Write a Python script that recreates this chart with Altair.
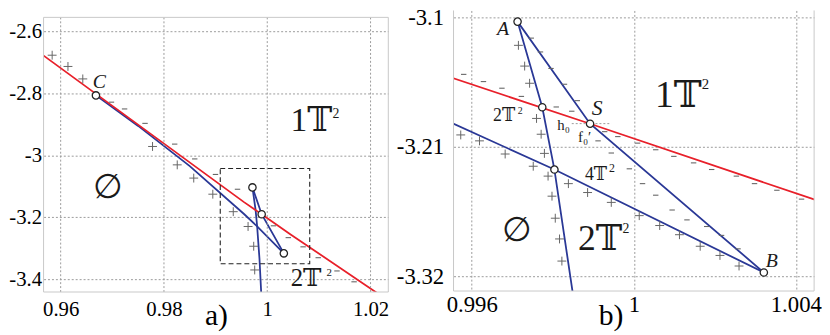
import altair as alt
import pandas as pd

RED = "#e8202a"
BLUE = "#2a3896"
GRID = "#9a9a9a"
FRAME = "#c8c8c8"
SYM = "#666666"
FONT = "'Liberation Serif', 'Times New Roman', Tinos, 'DejaVu Serif', serif"

# ---------------- curves (shared by both panels) ----------------
red_x = [0.9567, 0.9955, 0.99892, 1.00445, 1.0212]
red_y = [-2.678, -3.1512, -3.1903, -3.2546, -3.444]

blue1_x = [0.96683, 0.975, 0.985, 0.9955, 0.99804, 1.00321]
blue1_y = [-2.8064, -2.905, -3.035, -3.1895, -3.2292, -3.3166]

blue2_x = [0.99713, 0.99892, 1.00321]
blue2_y = [-3.1036, -3.1903, -3.3166]

blue3_x = [0.99713, 0.99774, 0.99804, 0.99849, 0.99883]
blue3_y = [-3.1036, -3.1763, -3.2292, -3.3334, -3.4447]

# ---------------- panel a symbols ----------------
a_plus_x = [0.958355, 0.961415, 0.964285, 0.977789, 0.982571, 0.985765,
            0.989457, 0.993417, 0.996286, 0.997376, 0.997567]
a_plus_y = [-2.67658, -2.71295, -2.75316, -2.97141, -3.03076, -3.07352,
            -3.12553, -3.182, -3.22986, -3.29368, -3.37026]
a_minus_x = [0.969832, 0.972376, 0.976335, 0.982074, 0.985957, 0.989974,
             0.994239, 1.001202, 1.004072, 1.006939, 1.009866, 1.0135, 1.01681]
a_minus_y = [-2.82825, -2.85016, -2.89675, -2.96375, -3.01161, -3.06171,
             -3.10957, -3.22764, -3.2659, -3.29559, -3.33069, -3.37345, -3.40855]
a_pts_x = [0.96683, 0.99713, 0.99892, 1.00321]
a_pts_y = [-2.8064, -3.1036, -3.1903, -3.3166]

# ---------------- panel b symbols ----------------
b_plus_x = [0.997151, 0.997305, 0.997427, 0.997598, 0.997712, 0.995727, 0.99619,
            0.997793, 0.997883, 0.99798, 0.998061, 0.998166, 0.998224,
            0.996824, 0.997517, 0.998385, 0.998859, 0.999444, 1.000134,
            1.000639, 1.001127, 1.001639, 1.002127, 1.002598]
b_plus_y = [-3.12374, -3.14135, -3.15594, -3.1858, -3.19922, -3.19981, -3.20484,
            -3.21549, -3.23478, -3.25181, -3.27051, -3.28812, -3.30691,
            -3.216, -3.22639, -3.24116, -3.24871, -3.25709, -3.26833,
            -3.27672, -3.28452, -3.29433, -3.30213, -3.3111]
b_minus_x = [0.997468, 0.997695, 0.997956, 0.998288, 0.998605, 0.9958, 0.996288,
             0.996744, 0.997224, 0.998085, 0.998468, 0.99928, 0.999605, 0.999117,
             0.999444, 0.99989, 1.000093, 1.000541, 1.000215, 1.000541, 1.000988,
             1.001476, 1.000946, 1.001312, 1.001922, 1.0018, 1.002166, 1.002532,
             1.002573, 1.00298, 1.003532, 1.004141]
b_minus_y = [-3.11761, -3.12935, -3.14336, -3.15678, -3.1707, -3.14839, -3.15452,
             -3.16014, -3.1671, -3.17607, -3.17968, -3.19704, -3.20123, -3.20484,
             -3.21516, -3.22857, -3.20677, -3.21239, -3.24116, -3.25097, -3.218,
             -3.22354, -3.26355, -3.27194, -3.22916, -3.27756, -3.2851, -3.23478,
             -3.29651, -3.24116, -3.24678, -3.25432]
b_pts_x = [0.99713, 0.99774, 0.99892, 0.99804, 1.00321]
b_pts_y = [-3.1036, -3.1763, -3.1903, -3.2292, -3.3166]

# ---------------- ticks / domains ----------------
a_xticks = [0.96, 0.98, 1.0, 1.02]
a_yticks = [-2.6, -2.8, -3.0, -3.2, -3.4]
b_xticks = [0.996, 1.0, 1.004]
b_yticks = [-3.1, -3.21, -3.32]
a_xdom = [0.95669, 1.02344]
a_ydom = [-3.44148, -2.53204]
a_frame_top = -2.5544
b_xdom = [0.995549, 1.004451]
b_ydom = [-3.33233, -3.09413]
a_box = [0.9909, 1.00822, -3.35, -3.0427]

# ---------------- labels ----------------
a_txt = ["1𝕋", "2𝕋", "2", "2"]
a_txt_x = [1.004511, 1.004547, 1.01264, 1.01149]
a_txt_y = [-2.92132, -3.42131, -2.87984, -3.39132]
a_txt_fs = [34, 25, 14, 11]
a_it = ["C"]
a_it_x = [0.9662]
a_it_y = [-2.7809]
a_it_fs = [20]
a_empty_x = [0.969124]
a_empty_y = [-3.10638]

b_txt = ["2𝕋", "4𝕋", "1𝕋", "2𝕋", "h₀", "f₀′", "2", "2", "2", "2"]
b_txt_x = [0.996524, 0.998793, 1.000524, 0.998622, 0.99811, 0.998622,
           0.997134, 0.999385, 1.00168, 0.99972]
b_txt_y = [-3.18806, -3.2378, -3.17632, -3.29768, -3.19561, -3.20568,
           -3.18245, -3.23142, -3.16039, -3.28284]
b_txt_fs = [18, 18, 38, 36, 15, 15, 10, 12, 15, 14]
b_it = ["A", "S", "B"]
b_it_x = [0.996622, 0.998963, 1.003256]
b_it_y = [-3.1151, -3.183, -3.3122]
b_it_fs = [20, 22, 20]
b_empty_x = [0.99711]
b_empty_y = [-3.28116]
s_dash = [0.998468, 0.999444, -3.1902]

LABEL_EXPR = "datum.value < 0 ? '-' + format(-datum.value, '~g') : format(datum.value, '~g')"


def lines_df():
    rows = []
    for name, xs, ys in [("b1", blue1_x, blue1_y), ("b2", blue2_x, blue2_y),
                         ("b3", blue3_x, blue3_y), ("red", red_x, red_y)]:
        for i, (x, y) in enumerate(zip(xs, ys)):
            rows.append({"x": x, "y": y, "s": name, "o": i})
    return pd.DataFrame(rows)


def one():
    return alt.Chart(pd.DataFrame({"k": [0]}))


def panel(xdom, ydom, xticks, yticks, lab_fs, xpad, ypad, title, title_x, title_y,
          xgrid, plus_x, plus_y, minus_x, minus_y, pts_x, pts_y,
          txt, txt_x, txt_y, txt_fs, it, it_x, it_y, it_fs, em_x, em_y, em_fs):
    xaxis = alt.Axis(values=xticks, grid=xgrid, gridColor=GRID, gridDash=[2, 2], gridWidth=1,
                     ticks=False, domain=False, labelFont=FONT, labelFontSize=lab_fs,
                     labelColor="black", labelPadding=xpad, labelFlush=False,
                     labelOverlap=False, labelExpr=LABEL_EXPR,
                     title=title, titleFont=FONT, titleFontSize=30, titleFontWeight="normal",
                     titleColor="black", titleBaseline="alphabetic", titleAlign="center",
                     titleX=title_x, titleY=title_y)
    yaxis = alt.Axis(values=yticks, grid=True, gridColor=GRID, gridDash=[2, 2], gridWidth=1,
                     ticks=False, domain=False, labelFont=FONT, labelFontSize=lab_fs,
                     labelColor="black", labelPadding=ypad, labelFlush=False,
                     labelOverlap=False, labelExpr=LABEL_EXPR, title=None)
    X = alt.X("x:Q", scale=alt.Scale(domain=xdom, nice=False, zero=False), axis=xaxis)
    Y = alt.Y("y:Q", scale=alt.Scale(domain=ydom, nice=False, zero=False), axis=yaxis)

    lines = alt.Chart(lines_df()).mark_line(clip=True, strokeWidth=1.8).encode(
        x=X, y=Y, detail="s:N", order="o:Q",
        color=alt.Color("s:N", scale=alt.Scale(domain=["b1", "b2", "b3", "red"],
                                               range=[BLUE, BLUE, BLUE, RED]), legend=None))
    plus = alt.Chart(pd.DataFrame({"x": plus_x, "y": plus_y})).mark_point(
        shape="M-1,0H1M0,-1V1", size=81, filled=False, stroke=SYM, strokeWidth=1, opacity=1
    ).encode(x="x:Q", y="y:Q")
    minus = alt.Chart(pd.DataFrame({"x": minus_x, "y": minus_y})).mark_point(
        shape="M-1,0H1", size=30, filled=False, stroke=SYM, strokeWidth=1.1, opacity=1
    ).encode(x="x:Q", y="y:Q")
    pts = alt.Chart(pd.DataFrame({"x": pts_x, "y": pts_y})).mark_point(
        shape="circle", size=55, filled=True, fill="white", stroke="#222222",
        strokeWidth=1.3, opacity=1
    ).encode(x="x:Q", y="y:Q")
    t1 = alt.Chart(pd.DataFrame({"x": txt_x, "y": txt_y, "t": txt, "fs": txt_fs})).mark_text(
        align="left", baseline="alphabetic", font=FONT, color="#1a1a1a"
    ).encode(x="x:Q", y="y:Q", text="t:N", size=alt.Size("fs:Q", scale=None))
    t2 = alt.Chart(pd.DataFrame({"x": it_x, "y": it_y, "t": it, "fs": it_fs})).mark_text(
        align="left", baseline="alphabetic", font=FONT, fontStyle="italic", color="#1a1a1a"
    ).encode(x="x:Q", y="y:Q", text="t:N", size=alt.Size("fs:Q", scale=None))
    t3 = alt.Chart(pd.DataFrame({"x": em_x, "y": em_y, "t": ["∅"] * len(em_x)})).mark_text(
        align="center", baseline="middle", font=FONT, fontSize=em_fs, color="#1a1a1a"
    ).encode(x="x:Q", y="y:Q", text="t:N")
    return lines, plus, minus, pts, t1, t2, t3


# ---------------- panel a ----------------
la, pa, ma, ca, t1a, t2a, t3a = panel(
    a_xdom, a_ydom, a_xticks, a_yticks, 21, 7, 2, "a)", 174.5, 33, False,
    a_plus_x, a_plus_y, a_minus_x, a_minus_y, a_pts_x, a_pts_y,
    a_txt, a_txt_x, a_txt_y, a_txt_fs, a_it, a_it_x, a_it_y, a_it_fs,
    a_empty_x, a_empty_y, 34)

a_vgrid = alt.Chart(pd.DataFrame({"x": a_xticks})).mark_rule(
    color=GRID, strokeDash=[2, 2], strokeWidth=1).encode(
    x="x:Q", y=alt.datum(a_frame_top), y2=alt.datum(a_ydom[0]))
a_frame = one().mark_rect(fillOpacity=0, stroke=FRAME, strokeWidth=1).encode(
    x=alt.datum(a_xdom[0]), x2=alt.datum(a_xdom[1]),
    y=alt.datum(a_frame_top), y2=alt.datum(a_ydom[0]))
a_boxm = one().mark_rect(fillOpacity=0, stroke="#222222", strokeDash=[5, 3], strokeWidth=1.1).encode(
    x=alt.datum(a_box[0]), x2=alt.datum(a_box[1]), y=alt.datum(a_box[2]), y2=alt.datum(a_box[3]))

chart_a = alt.layer(la, a_vgrid, a_frame, a_boxm, pa, ma, ca, t1a, t2a, t3a).properties(
    width=349, height=285)

# ---------------- panel b ----------------
lb, pb, mb, cb, t1b, t2b, t3b = panel(
    b_xdom, b_ydom, b_xticks, b_yticks, 23, 3, 10, "b)", 159, 34, True,
    b_plus_x, b_plus_y, b_minus_x, b_minus_y, b_pts_x, b_pts_y,
    b_txt, b_txt_x, b_txt_y, b_txt_fs, b_it, b_it_x, b_it_y, b_it_fs,
    b_empty_x, b_empty_y, 34)

b_left = one().mark_rule(color=FRAME, strokeWidth=1).encode(x=alt.datum(b_xdom[0]))
b_right = one().mark_rule(color=FRAME, strokeWidth=1).encode(x=alt.datum(b_xdom[1]))
b_bottom = one().mark_rule(color=FRAME, strokeWidth=1).encode(y=alt.datum(b_ydom[0]))
b_sdash = one().mark_rule(color=GRID, strokeDash=[2, 2], strokeWidth=1).encode(
    x=alt.datum(s_dash[0]), x2=alt.datum(s_dash[1]), y=alt.datum(s_dash[2]))

chart_b = alt.layer(lb, b_left, b_right, b_bottom, b_sdash, pb, mb, cb, t1b, t2b, t3b).properties(
    width=365, height=284)

chart = alt.hconcat(chart_a, chart_b, spacing=7).properties(
    padding={"top": -4.5, "left": 0, "right": 0, "bottom": 0}
).configure_view(strokeWidth=0)

chart.save("out.html", embed_options={"renderer": "svg", "actions": False})
